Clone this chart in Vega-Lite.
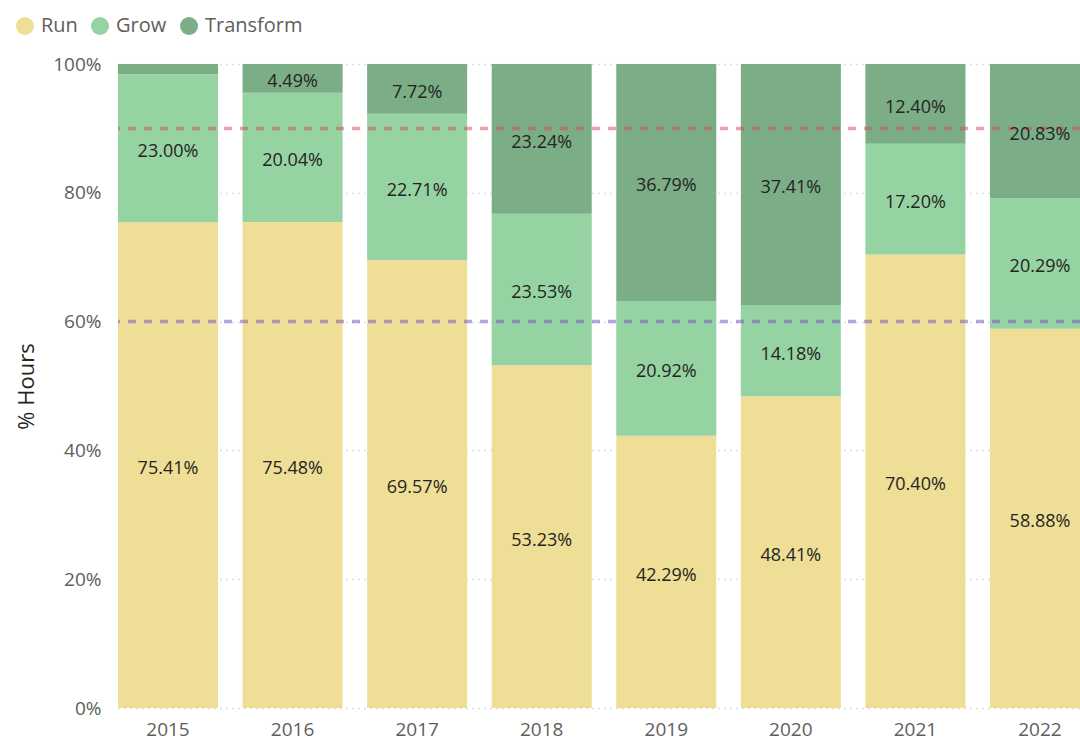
{
  "$schema": "https://vega.github.io/schema/vega-lite/v6.json",
  "width": 962,
  "height": 644,
  "autosize": {"type": "none"},
  "padding": {"left": 118, "top": 64, "right": 0, "bottom": 33},
  "background": "white",
  "config": {"font": "Open Sans", "view": {"stroke": null}},
  "data": {
    "values": [
      {"year": "2015", "cat": "Run", "k": 1, "value": 0.7541},
      {"year": "2015", "cat": "Grow", "k": 2, "value": 0.2300},
      {"year": "2015", "cat": "Transform", "k": 3, "value": 0.0159},
      {"year": "2016", "cat": "Run", "k": 1, "value": 0.7548},
      {"year": "2016", "cat": "Grow", "k": 2, "value": 0.2004},
      {"year": "2016", "cat": "Transform", "k": 3, "value": 0.0449},
      {"year": "2017", "cat": "Run", "k": 1, "value": 0.6957},
      {"year": "2017", "cat": "Grow", "k": 2, "value": 0.2271},
      {"year": "2017", "cat": "Transform", "k": 3, "value": 0.0772},
      {"year": "2018", "cat": "Run", "k": 1, "value": 0.5323},
      {"year": "2018", "cat": "Grow", "k": 2, "value": 0.2353},
      {"year": "2018", "cat": "Transform", "k": 3, "value": 0.2324},
      {"year": "2019", "cat": "Run", "k": 1, "value": 0.4229},
      {"year": "2019", "cat": "Grow", "k": 2, "value": 0.2092},
      {"year": "2019", "cat": "Transform", "k": 3, "value": 0.3679},
      {"year": "2020", "cat": "Run", "k": 1, "value": 0.4841},
      {"year": "2020", "cat": "Grow", "k": 2, "value": 0.1418},
      {"year": "2020", "cat": "Transform", "k": 3, "value": 0.3741},
      {"year": "2021", "cat": "Run", "k": 1, "value": 0.7040},
      {"year": "2021", "cat": "Grow", "k": 2, "value": 0.1720},
      {"year": "2021", "cat": "Transform", "k": 3, "value": 0.1240},
      {"year": "2022", "cat": "Run", "k": 1, "value": 0.5888},
      {"year": "2022", "cat": "Grow", "k": 2, "value": 0.2029},
      {"year": "2022", "cat": "Transform", "k": 3, "value": 0.2083}
    ]
  },
  "encoding": {
    "x": {
      "field": "year",
      "type": "ordinal",
      "scale": {"range": [0, 972], "paddingInner": 0.197, "paddingOuter": 0},
      "axis": {
        "title": null,
        "labelAngle": 0,
        "domain": false,
        "ticks": false,
        "grid": false,
        "labelFontSize": 19,
        "labelColor": "#605E5C",
        "labelPadding": 12
      }
    }
  },
  "layer": [
    {
      "mark": {"type": "bar"},
      "encoding": {
        "y": {
          "field": "value",
          "type": "quantitative",
          "stack": "zero",
          "scale": {"domain": [0, 1], "nice": false},
          "axis": {
            "title": "% Hours",
            "format": ".0%",
            "values": [0, 0.2, 0.4, 0.6, 0.8, 1],
            "domain": false,
            "ticks": false,
            "grid": true,
            "gridDash": [1, 5],
            "gridColor": "#bdbdbd",
            "gridWidth": 1.5,
            "labelFontSize": 19,
            "labelColor": "#605E5C",
            "labelPadding": 17,
            "titleFontSize": 22,
            "titleFontWeight": "normal",
            "titleColor": "#252423",
            "titleX": -80
          }
        },
        "color": {
          "field": "cat",
          "type": "nominal",
          "sort": ["Run", "Grow", "Transform"],
          "scale": {"domain": ["Run", "Grow", "Transform"], "range": ["#EEDE96", "#95D3A2", "#7BAD86"]},
          "legend": {
            "title": null,
            "orient": "none",
            "legendX": -103,
            "legendY": -48,
            "direction": "horizontal",
            "symbolType": "circle",
            "symbolSize": 324,
            "symbolStrokeWidth": 0,
            "symbolOpacity": 1,
            "labelFontSize": 20,
            "labelColor": "#605E5C",
            "labelOffset": 6,
            "columnPadding": 12
          }
        },
        "order": {"field": "k", "type": "quantitative"}
      }
    },
    {
      "data": {"values": [{"ref": 0.9}]},
      "mark": {"type": "rule", "color": "#D9474F", "opacity": 0.5, "strokeWidth": 3.5, "strokeDash": [8, 8]},
      "encoding": {"y": {"field": "ref", "type": "quantitative"}, "x": null}
    },
    {
      "data": {"values": [{"ref": 0.6}]},
      "mark": {"type": "rule", "color": "#744EC2", "opacity": 0.5, "strokeWidth": 3.5, "strokeDash": [8, 8]},
      "encoding": {"y": {"field": "ref", "type": "quantitative"}, "x": null}
    },
    {
      "mark": {"type": "text", "fontSize": 18, "color": "#252423", "dy": 4},
      "encoding": {
        "y": {"field": "value", "type": "quantitative", "stack": "zero", "bandPosition": 0.5},
        "detail": {"field": "cat"},
        "order": {"field": "k", "type": "quantitative"},
        "text": {
          "condition": {"test": "datum.value < 0.02", "value": ""},
          "field": "value",
          "type": "quantitative",
          "format": ".2%"
        }
      }
    }
  ]
}
